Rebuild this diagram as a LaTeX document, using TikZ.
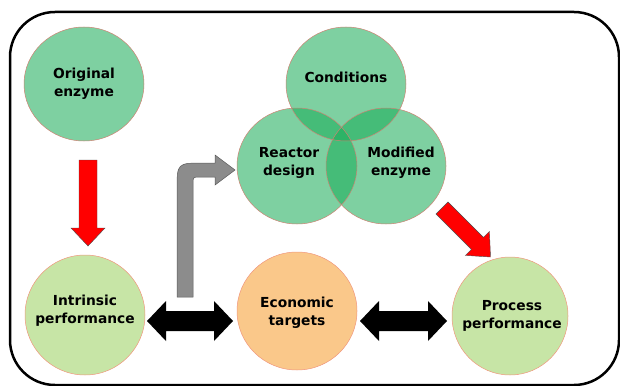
\documentclass[tikz,border=0pt]{standalone}
\usepackage{fontspec}
\setmainfont{DejaVu Sans}
\begin{document}
\begin{tikzpicture}[x=1pt,y=-1pt,
  lbl/.style={font=\bfseries\fontsize{13.8}{18}\selectfont, align=center, text=black},
  redarrow/.style={fill=red, draw=black!70, line width=0.4pt},
  blackarrow/.style={fill=black},
  grayarrow/.style={fill=black!45, draw=black!65, line width=0.5pt},
  vennfill/.style={fill=vennc, fill opacity=0.56},
  rimline/.style={draw=rim, line width=0.5pt},
  rimline2/.style={draw=rim2, line width=0.5pt}]
\definecolor{vennc}{RGB}{25,172,88}
\definecolor{lgreen}{RGB}{199,229,166}
\definecolor{lorange}{RGB}{250,200,138}
\definecolor{rim}{RGB}{205,130,115}
\definecolor{rim2}{RGB}{240,150,125}
\useasboundingbox (0,0) rectangle (620,385);
\begin{scope}
\clip (0,0) rectangle (620,385);
\draw[line width=2.5pt, rounded corners=45] (10,12) rectangle (619,385);
\end{scope}
% circles
\fill[vennfill] (84,84) ellipse [x radius=60, y radius=57];
\draw[rimline] (84,84) ellipse [x radius=60, y radius=57];
\fill[vennfill] (346,84) ellipse [x radius=60, y radius=57];
\fill[vennfill] (297,166) ellipse [x radius=60, y radius=58];
\fill[vennfill] (386,166) ellipse [x radius=60, y radius=58];
\draw[rimline] (346,84) ellipse [x radius=60, y radius=57];
\draw[rimline] (297,166) ellipse [x radius=60, y radius=58];
\draw[rimline] (386,166) ellipse [x radius=60, y radius=58];
\fill[lgreen] (85,315) ellipse [x radius=60, y radius=60];
\draw[rimline2] (85,315) ellipse [x radius=60, y radius=60];
\fill[lorange] (297,311) ellipse [x radius=60, y radius=59];
\draw[rimline2] (297,311) ellipse [x radius=60, y radius=59];
\fill[lgreen] (510,316) ellipse [x radius=58, y radius=59];
\draw[rimline2] (510,316) ellipse [x radius=58, y radius=59];
% labels
\node[lbl] (orig) at (84,84) {Original\\enzyme};
\node[lbl] (cond) at (346,77) {Conditions};
\node[lbl] (reac) at (289,163) {Reactor\\design};
\node[lbl] (modi) at (401,163) {Modified\\enzyme};
\node[lbl] (intr) at (85,311) {Intrinsic\\performance};
\node[lbl] (econ) at (297,313) {Economic\\targets};
\node[lbl] (proc) at (512,316) {Process\\performance};
% red down arrow
\draw[redarrow] (79,160) -- (97,160) -- (97,228) -- (105,228) -- (88,246) -- (71,228) -- (79,228) -- cycle;
% red diagonal arrow
\draw[redarrow] (448,202) -- (483.4,237.4) -- (489.4,231.4) -- (490.5,257) -- (465.4,255.4) -- (471.4,249.4) -- (436,214) -- cycle;
% gray bent arrow
\draw[grayarrow] (177,297) -- (177,190) .. controls (177,163) and (177,163) .. (204,163)
  -- (215,163) -- (215,155) -- (235,170) -- (215,185) -- (215,177) -- (200,177)
  .. controls (193,177) and (193,177) .. (193,184) -- (193,297) -- cycle;
% black double arrows
\fill[blackarrow] (147,321) -- (166,301) -- (166,311) -- (214,311) -- (214,301) -- (233,321)
  -- (214,341) -- (214,331) -- (166,331) -- (166,341) -- cycle;
\fill[blackarrow] (360,321) -- (379,301) -- (379,311) -- (428,311) -- (428,301) -- (447,321)
  -- (428,341) -- (428,331) -- (379,331) -- (379,341) -- cycle;
\end{tikzpicture}
\end{document}
